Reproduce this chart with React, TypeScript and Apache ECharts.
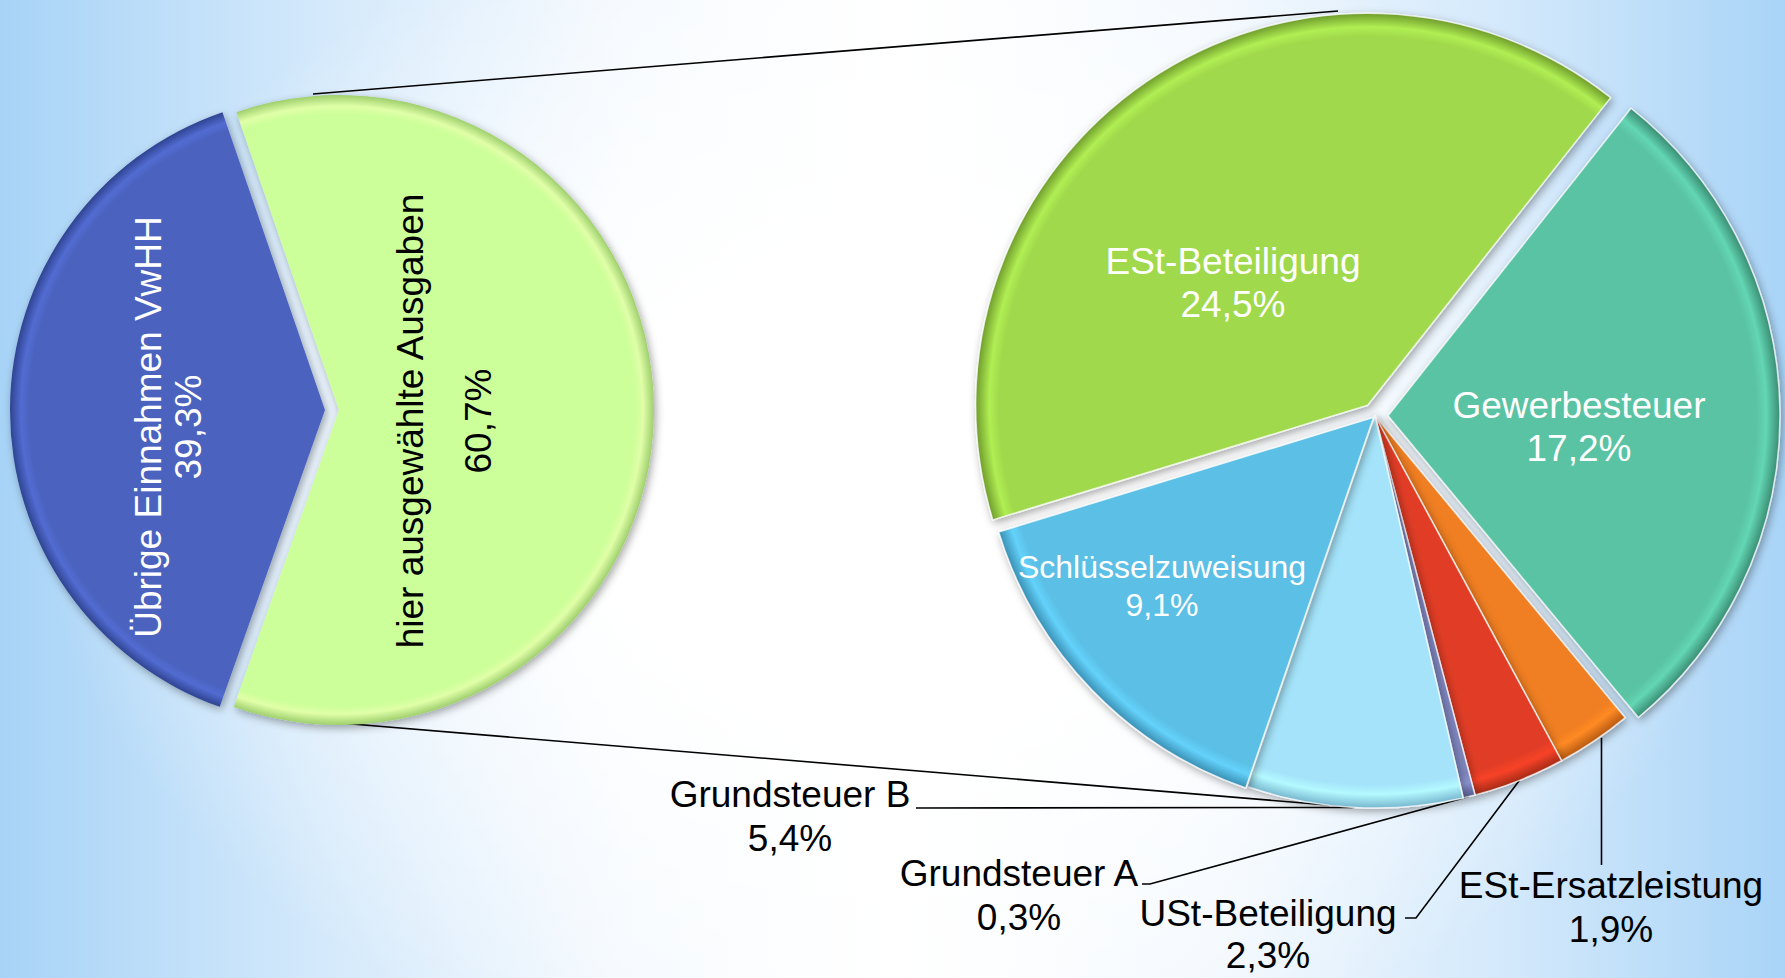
import React, { useEffect, useRef } from 'react';
import * as echarts from 'echarts';

// ---------- data ----------
const overviewNames = ['hier ausgewählte Ausgaben', 'Übrige Einnahmen VwHH'];
const overviewValues = [60.7, 39.3];

const detailNames = [
  'ESt-Beteiligung',
  'Gewerbesteuer',
  'ESt-Ersatzleistung',
  'USt-Beteiligung',
  'Grundsteuer A',
  'Grundsteuer B',
  'Schlüsselzuweisung',
];
const detailValues = [24.5, 17.2, 1.9, 2.3, 0.3, 5.4, 9.1];

// ---------- styles ----------
const overviewColors = ['#ccff99', '#4b63bf'];
const overviewRims = ['#9fcf6e', '#2f4491'];
const overviewExplode = [7, 7];
const detailColors = ['#a0d94c', '#5ac3a3', '#f07e22', '#e13d25', '#7e85bd', '#a4e3fa', '#5bbfe5'];
const detailRims = ['#6f9c2c', '#3a8d73', '#b65a12', '#a52a17', '#565c8e', '#78b7cf', '#3a8fb3'];
const detailExplode = [13, 13, 0, 0, 0, 0, 2];

const FONT = "'Liberation Sans', Arial, Helvetica, sans-serif";
const W = 1785;
const H = 978;
const L = { cx: 332, cy: 410, r: 315, start: 109 };
const R = { cx: 1375, cy: 416, r: 392, start: 197 };

const pct = (v: number) => v.toFixed(1).replace('.', ',') + '%';

// label placement (layout only)
const overviewLabelPos: Record<string, any> = {
  'hier ausgewählte Ausgaben': { x: 444, y: 421 },
  'Übrige Einnahmen VwHH': { x: 168, y: 427 },
};
const detailLabelPos: Record<string, any> = {
  'ESt-Beteiligung': { x: 1233, y: 283 },
  'Gewerbesteuer': { x: 1579, y: 427 },
  'Schlüsselzuweisung': { x: 1162, y: 586 },
  'Grundsteuer B': { x: 790, y: 816, line: (p: number[]) => [p, [916, 808]] },
  'Grundsteuer A': { x: 1019, y: 895, line: (p: number[]) => [p, [1150, 884], [1142, 884]] },
  'USt-Beteiligung': { x: 1268, y: 934, line: (p: number[]) => [p, [1416, 918], [1405, 918]] },
  'ESt-Ersatzleistung': { x: 1611, y: 907, line: (p: number[]) => [[p[0] + 7, p[1] - 3], [p[0] + 7, 865]] },
};
const insideDetail = ['ESt-Beteiligung', 'Gewerbesteuer', 'Schlüsselzuweisung'];

function midAngles(values: number[], start: number) {
  const total = values.reduce((a, b) => a + b, 0);
  let a = start;
  return values.map((v) => {
    const span = (v / total) * 360;
    const m = a - span / 2;
    a -= span;
    return m;
  });
}

function rimFill(c: string, rim: string, cx: number, cy: number, r: number) {
  return {
    type: 'radial',
    x: cx,
    y: cy,
    r: r,
    global: true,
    colorStops: [
      { offset: 0, color: c },
      { offset: 0.94, color: c },
      { offset: 0.965, color: echarts.color.lift(c, -0.1) as string },
      { offset: 1, color: rim },
    ],
  };
}

const hiddenItem = {
  itemStyle: {
    color: 'rgba(0,0,0,0)',
    borderWidth: 0,
    shadowBlur: 0,
    shadowColor: 'rgba(0,0,0,0)',
  },
  label: { show: false },
  labelLine: { show: false },
};

export default function App() {
  const ref = useRef<HTMLDivElement>(null);

  useEffect(() => {
    document.body.style.margin = '0';
    if (!ref.current) return;
    const chart = echarts.init(ref.current, null, { renderer: 'svg', width: W, height: H });

    const shadow = {
      shadowBlur: 8,
      shadowColor: 'rgba(0,0,0,0.35)',
      shadowOffsetX: 2,
      shadowOffsetY: 3,
    };

    const fmt = (p: any) => p.name + '\n' + pct(p.value);

    // ---- overview pie: one series per exploded slice ----
    const oMid = midAngles(overviewValues, L.start);
    const overviewSeries = overviewNames.map((_, k) => {
      const rad = (oMid[k] * Math.PI) / 180;
      const cx = L.cx + overviewExplode[k] * Math.cos(rad);
      const cy = L.cy - overviewExplode[k] * Math.sin(rad);
      return {
        type: 'pie',
        z: 3,
        silent: true,
        center: [cx, cy],
        radius: L.r,
        startAngle: L.start,
        clockwise: true,
        avoidLabelOverlap: false,
        itemStyle: { ...shadow },
        emphasis: { disabled: true },
        label: {
          show: true,
          position: 'inside',
          fontFamily: FONT,
          fontSize: 37,
          align: 'center',
          rotate: 90,
          formatter: fmt,
        },
        labelLayout: (p: any) => {
          const pos = overviewLabelPos[overviewNames[p.dataIndex]];
          return { x: pos.x, y: pos.y, align: 'center', verticalAlign: 'middle', rotate: 90 };
        },
        data: overviewNames.map((n, i) =>
          i === k
            ? {
                name: n,
                value: overviewValues[i],
                itemStyle: { color: rimFill(overviewColors[i], overviewRims[i], cx, cy, L.r) },
                label: {
                  color: i === 0 ? '#000000' : '#ffffff',
                  lineHeight: i === 0 ? 68 : 40,
                },
              }
            : { name: n, value: overviewValues[i], ...hiddenItem }
        ),
      };
    });

    // ---- detail pie: one series per slice (explode offsets) ----
    const dMid = midAngles(detailValues, R.start);
    const detailSeries = detailNames.map((_, k) => {
      const rad = (dMid[k] * Math.PI) / 180;
      const cx = R.cx + detailExplode[k] * Math.cos(rad);
      const cy = R.cy - detailExplode[k] * Math.sin(rad);
      const inside = insideDetail.indexOf(detailNames[k]) >= 0;
      return {
        type: 'pie',
        z: 3,
        silent: true,
        center: [cx, cy],
        radius: R.r,
        startAngle: R.start,
        clockwise: true,
        avoidLabelOverlap: false,
        itemStyle: { ...shadow, borderColor: 'rgba(255,255,255,0.75)', borderWidth: 1.5 },
        emphasis: { disabled: true },
        label: {
          show: true,
          fontFamily: FONT,
          fontSize: 37,
          align: 'center',
          formatter: fmt,
        },
        labelLine: {
          show: true,
          length: 20,
          length2: 20,
          lineStyle: { color: '#000000', width: 1.6 },
        },
        labelLayout: (p: any) => {
          const pos = detailLabelPos[detailNames[p.dataIndex]];
          const out: any = { x: pos.x, y: pos.y, align: 'center', verticalAlign: 'middle' };
          if (pos.line && p.labelLinePoints && p.labelLinePoints.length) {
            out.labelLinePoints = pos.line(p.labelLinePoints[0]);
          }
          return out;
        },
        data: detailNames.map((n, i) =>
          i === k
            ? {
                name: n,
                value: detailValues[i],
                itemStyle: { color: rimFill(detailColors[i], detailRims[i], cx, cy, R.r) },
                label: inside
                  ? {
                      position: 'inside',
                      color: '#ffffff',
                      fontSize: n === 'Schlüsselzuweisung' ? 32 : 37,
                      lineHeight: n === 'Schlüsselzuweisung' ? 38 : 43,
                    }
                  : {
                      position: 'outside',
                      color: '#000000',
                      fontSize: 37,
                      lineHeight: n === 'USt-Beteiligung' ? 42 : 44,
                    },
                labelLine: { show: !inside },
              }
            : { name: n, value: detailValues[i], ...hiddenItem }
        ),
      };
    });

    chart.setOption({
      animation: false,
      backgroundColor: 'transparent',
      graphic: [
        {
          type: 'line',
          z: 0,
          shape: { x1: 313, y1: 94, x2: 1338, y2: 11 },
          style: { stroke: '#000000', lineWidth: 1.6 },
        },
        {
          type: 'line',
          z: 0,
          shape: { x1: 340, y1: 723, x2: 1352, y2: 807 },
          style: { stroke: '#000000', lineWidth: 1.6 },
        },
      ],
      series: [...overviewSeries, ...detailSeries],
    });

    return () => chart.dispose();
  }, []);

  return (
    <div
      style={{
        position: 'fixed',
        left: 0,
        top: 0,
        width: W,
        height: H,
        background:
          'radial-gradient(ellipse 48% 62% at 50% 50%, rgba(255,255,255,1) 35%, rgba(255,255,255,0) 100%), linear-gradient(90deg, #a7d3f7 0%, #d4e9fb 18%, #f4f9fe 35%, #ffffff 50%, #f2f8fe 68%, #d2e8fb 85%, #a9d4f7 100%)',
      }}
    >
      <div ref={ref} style={{ width: W, height: H }} />
    </div>
  );
}
